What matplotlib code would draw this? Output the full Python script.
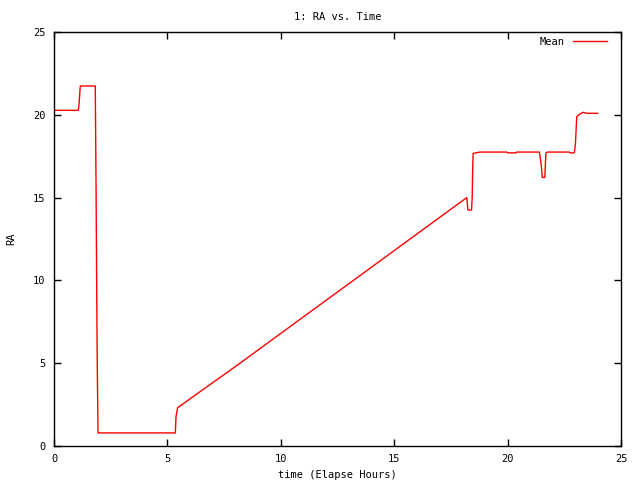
import matplotlib
matplotlib.use("Agg")
import matplotlib.pyplot as plt

# values (elapsed hours, RA)
hours = [0.0, 1.07, 1.10, 1.16, 1.82, 1.85, 1.90, 1.94, 5.35, 5.38, 5.45,
         6.54, 8.0, 10.0, 12.0, 14.0, 16.0, 18.2, 18.25, 18.41, 18.44,
         18.46, 18.48, 18.78, 19.96, 20.0, 20.37, 20.40, 21.40, 21.48,
         21.53, 21.64, 21.69, 21.75, 22.72, 22.76, 22.94, 22.99, 23.05,
         23.19, 23.34, 23.48, 23.97]
ra = [20.27, 20.27, 20.6, 21.74, 21.74, 16.47, 6.0, 0.79, 0.79, 1.77, 2.31,
      3.38, 4.8, 6.8, 8.8, 10.8, 12.8, 15.0, 14.25, 14.25, 15.05,
      16.73, 17.67, 17.75, 17.75, 17.7, 17.7, 17.75, 17.75, 17.0,
      16.22, 16.22, 17.7, 17.75, 17.75, 17.7, 17.7, 18.24, 19.89,
      20.05, 20.15, 20.09, 20.09]

plt.rcParams['font.family'] = ['DejaVu Sans Mono']
plt.rcParams['font.size'] = 7.5

fig = plt.figure(figsize=(6.4, 4.8), dpi=100)
ax = fig.add_axes([54 / 640, 34 / 480, 567 / 640, 414 / 480])
ax.plot(hours, ra, color='#ff0000', linewidth=1.0, label='Mean')
ax.set_xlim(0, 25)
ax.set_ylim(0, 25)
ax.set_xticks([0, 5, 10, 15, 20, 25])
ax.set_yticks([0, 5, 10, 15, 20, 25])
ax.tick_params(direction='in', length=5, width=1, top=True, right=True, pad=6)
for s in ax.spines.values():
    s.set_linewidth(1)
ax.set_title("1: RA vs. Time", pad=9, fontsize=7.5)
ax.set_xlabel("time (Elapse Hours)", labelpad=4)
ax.set_ylabel("RA", labelpad=12)
# legend placed like gnuplot's key: text left, sample line right
leg = ax.legend(loc='upper right', frameon=False, markerfirst=False,
                bbox_to_anchor=(610 / 640, 1 - 34 / 480),
                bbox_transform=fig.transFigure, borderaxespad=0,
                borderpad=0.3, handlelength=3.3, handletextpad=0.8)
fig.savefig("out.png", dpi=100)
